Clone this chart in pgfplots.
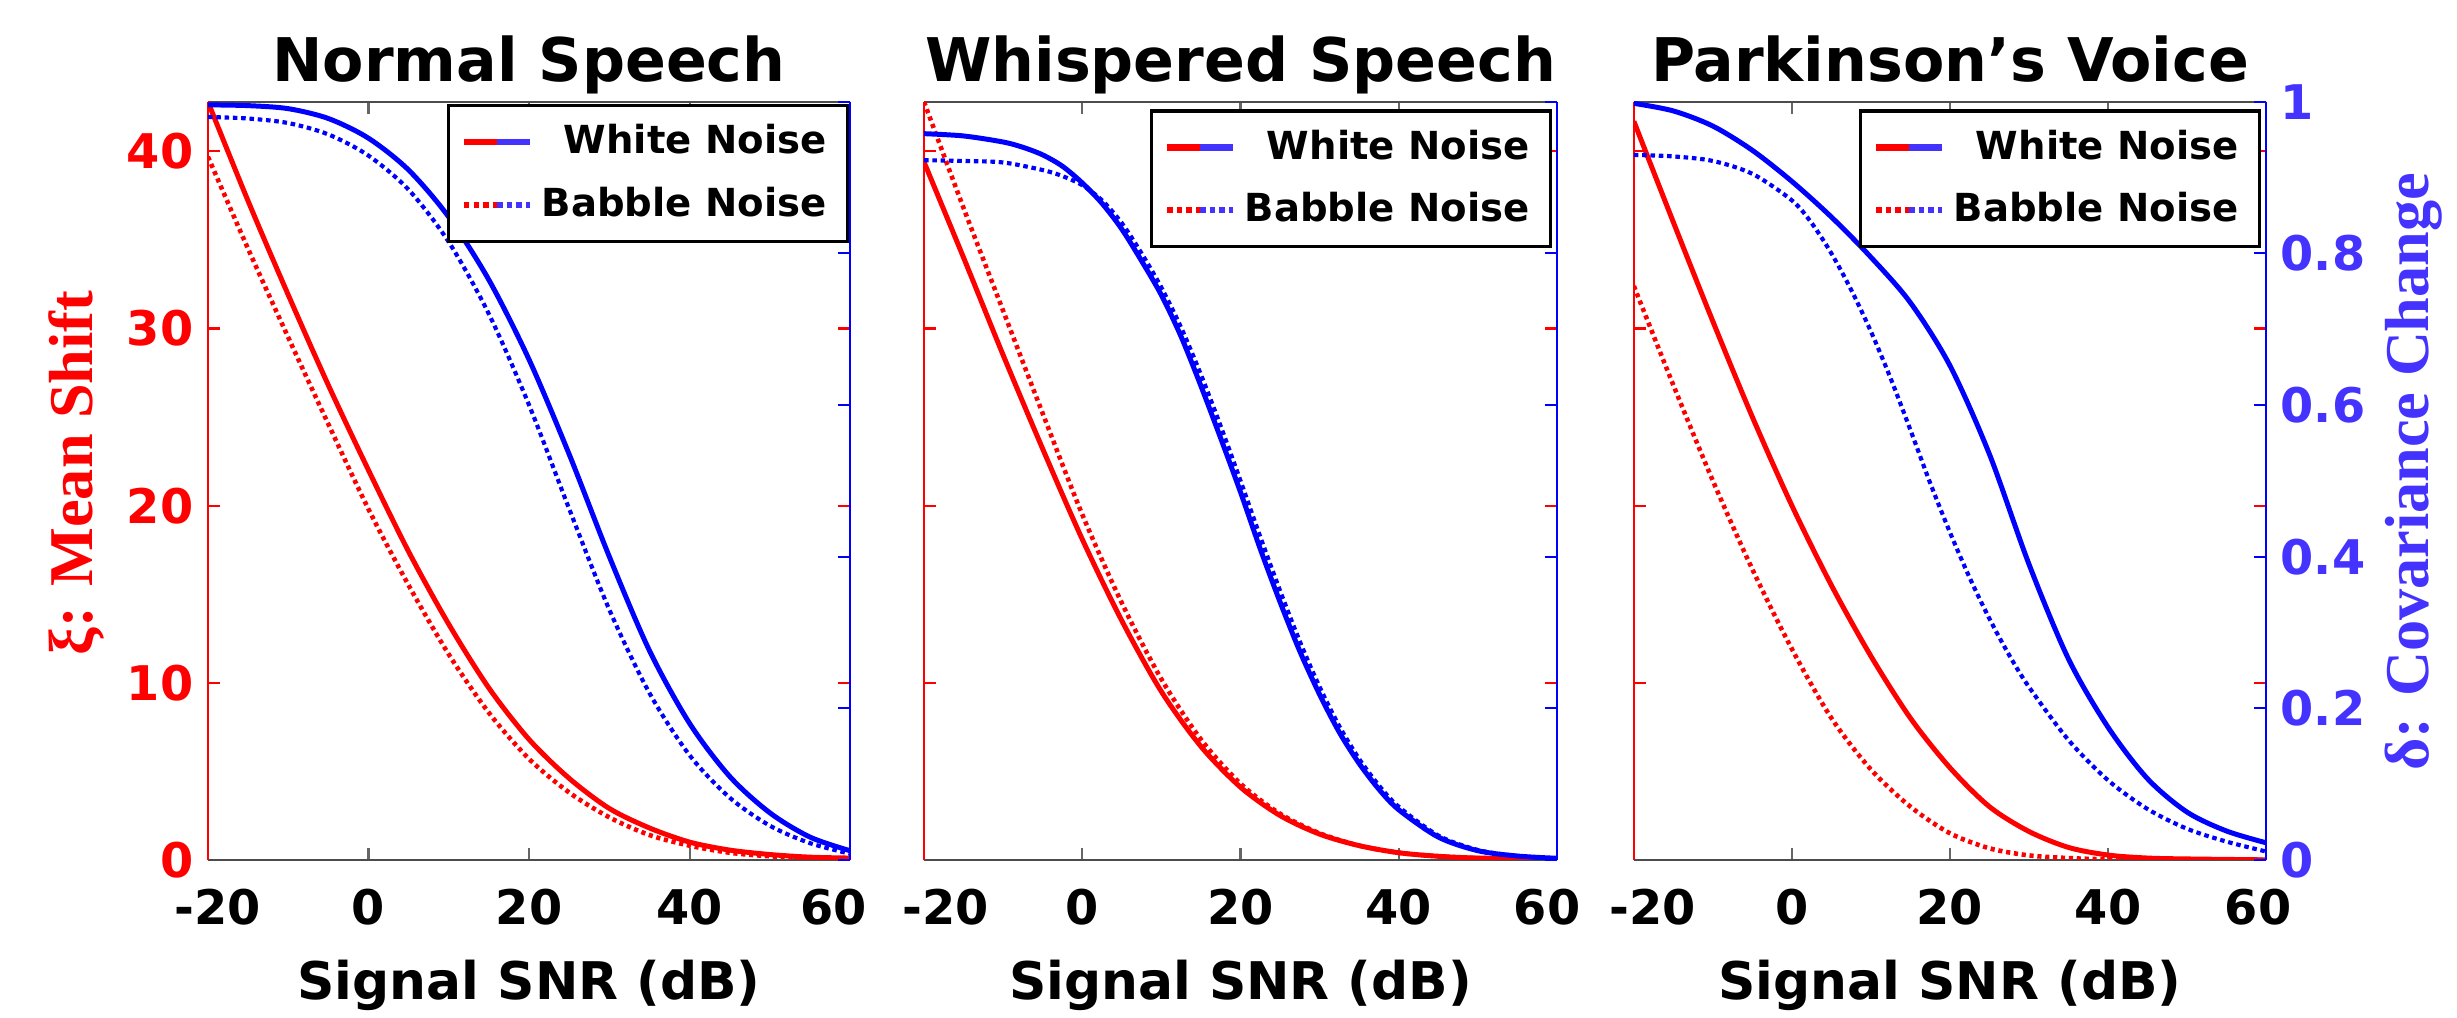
\documentclass[border=0pt]{standalone}
\usepackage{fontspec}
\setmainfont{DejaVu Sans}
\newfontfamily\tnr{Liberation Serif}
\usepackage{pgfplots}
\pgfplotsset{compat=1.18}
\definecolor{bline}{HTML}{0000FF}
\definecolor{blab}{HTML}{4433FF}
\newcommand\ticfont{\fontsize{11.5}{13}\selectfont\bfseries}
\newcommand\ttlfont{\fontsize{14.5}{16}\selectfont\bfseries}
\newcommand\xlfont{\fontsize{12.5}{14}\selectfont\bfseries}
\newcommand\legfont{\fontsize{9.3}{10}\selectfont\bfseries}
\newcommand\ylfont{\tnr\bfseries\fontsize{15}{16}\selectfont}

\pgfplotsset{
  panel/.style={scale only axis, height=182.6pt, xmin=-20, xmax=60, ymin=0,
    anchor=south west, tick align=inside, major tick length=2.9pt,
    xtick={-20,0,20,40,60}},
  redax/.style={panel, ymax=42.8, axis x line*=box, axis y line*=left,
    x axis line style={black!70, line width=0.6pt},
    y axis line style={red, line width=0.5pt},
    xtick style={black!60, line width=0.5pt},
    ytick style={red, line width=0.5pt},
    ytick={0,10,20,30,40},
    xticklabel style={font=\ticfont, anchor=base, yshift=-15.6pt},
    yticklabel style={font=\ticfont, text=red},
    every axis title/.style={at={(axis description cs:0.5,1)}, anchor=base,
      yshift=4.8pt, font=\ttlfont},
    every axis x label/.style={at={(axis description cs:0.5,0)}, anchor=base,
      yshift=-33.7pt, font=\xlfont},
    xlabel={Signal SNR (dB)}},
  redmirror/.style={panel, ymax=42.8, axis x line=none, axis y line*=right,
    y axis line style={red, line width=0.5pt},
    ytick style={red, line width=0.5pt},
    ytick={0,10,20,30,40}, yticklabels={}},
  blueax/.style={panel, ymax=1, axis x line=none, axis y line*=right,
    y axis line style={bline, line width=0.6pt},
    ytick style={bline, line width=0.5pt},
    ytick={0,0.2,0.4,0.6,0.8,1},
    yticklabel style={font=\ticfont, text=blab},
    legend cell align=right,
    legend style={anchor=north east, draw=black, line width=0.8pt, fill=white,
      font=\legfont, inner xsep=3pt, inner ysep=2.5pt, row sep=2.5pt,
      /tikz/every even column/.append style={column sep=3pt}}},
  rs/.style={red, line width=1.2pt, smooth},
  rd/.style={red, line width=1.1pt, dash pattern=on 1pt off 0.9pt, smooth},
  bs/.style={bline, line width=1.2pt, smooth, forget plot},
  bd/.style={bline, line width=1.0pt, dash pattern=on 1.1pt off 0.9pt, smooth, forget plot},
  wn/.style={legend image code/.code={
      \draw[red, line width=1.5pt] (0cm,0cm) -- (0.28cm,0cm);
      \draw[blab, line width=1.5pt] (0.28cm,0cm) -- (0.56cm,0cm);}},
  bn/.style={legend image code/.code={
      \draw[red, line width=1.5pt, dash pattern=on 1.3pt off 1pt] (0cm,0cm) -- (0.28cm,0cm);
      \draw[blab, line width=1.5pt, dash pattern=on 1.3pt off 1pt] (0.28cm,0cm) -- (0.56cm,0cm);}},
}

\begin{document}
\begin{tikzpicture}
\useasboundingbox (0,0) rectangle (591.9pt,245.2pt);

% ---------- Normal Speech ----------
\begin{axis}[redax, width=154.7pt, at={(50.1pt,38.06pt)}, title={Normal Speech},
    xticklabels={\kern4.8pt-20,0,20,40,60\kern7.8pt},
    yticklabels={0,10,20,30,40}, ylabel={ξ: Mean Shift},
    every axis y label/.style={at={(axis description cs:-0.204,0.51)}, anchor=center,
      rotate=90, font=\ylfont, text=red}]
  \addplot[rs] coordinates {(-20,42.8) (-15,37.2) (-10,31.9) (-5,26.8) (0,22.0) (5,17.4) (10,13.3) (15,9.7) (20,6.8) (25,4.6) (30,2.9) (35,1.8) (40,1.0) (45,0.55) (50,0.3) (55,0.15) (60,0.1)};
  \addplot[rd] coordinates {(-20,39.7) (-15,34.5) (-10,29.5) (-5,24.6) (0,19.8) (5,15.5) (10,11.6) (15,8.3) (20,5.7) (25,3.8) (30,2.4) (35,1.4) (40,0.8) (45,0.4) (50,0.2) (55,0.1) (60,0.05)};
\end{axis}
\begin{axis}[redmirror, width=154.7pt, at={(50.1pt,38.06pt)}]
\end{axis}
\begin{axis}[blueax, width=154.7pt, at={(50.1pt,38.06pt)}, yticklabels={},
    legend style={at={(0.998,0.997)}}]
  \addplot[bs] coordinates {(-20,0.996) (-15,0.995) (-10,0.991) (-5,0.978) (0,0.952) (5,0.91) (10,0.848) (15,0.765) (20,0.66) (25,0.535) (30,0.4) (35,0.276) (40,0.18) (45,0.11) (50,0.062) (55,0.03) (60,0.012)};
  \addplot[bd] coordinates {(-20,0.98) (-15,0.978) (-10,0.972) (-5,0.957) (0,0.929) (5,0.884) (10,0.815) (15,0.72) (20,0.6) (25,0.463) (30,0.33) (35,0.22) (40,0.138) (45,0.082) (50,0.045) (55,0.022) (60,0.008)};
  \addlegendimage{wn}\addlegendentry{White Noise}
  \addlegendimage{bn}\addlegendentry{Babble Noise}
\end{axis}

% ---------- Whispered Speech ----------
\begin{axis}[redax, width=152.5pt, at={(222.6pt,38.06pt)}, title={Whispered Speech},
    xticklabels={\kern10.6pt-20,0,20,40,60\kern4.8pt},
    yticklabels={}]
  \addplot[rs] coordinates {(-20,39.4) (-15,34.0) (-10,28.5) (-5,23.2) (0,18.1) (5,13.5) (10,9.5) (15,6.4) (20,4.1) (25,2.5) (30,1.45) (35,0.8) (40,0.4) (45,0.2) (50,0.1) (60,0.03)};
  \addplot[rd] coordinates {(-20,42.8) (-15,36.8) (-10,31.0) (-5,25.2) (0,19.5) (5,14.5) (10,10.2) (15,6.8) (20,4.3) (25,2.6) (30,1.5) (35,0.8) (40,0.4) (45,0.2) (50,0.1) (60,0.03)};
\end{axis}
\begin{axis}[redmirror, width=152.5pt, at={(222.6pt,38.06pt)}]
\end{axis}
\begin{axis}[blueax, width=152.5pt, at={(222.6pt,38.06pt)}, yticklabels={},
    legend style={at={(0.992,0.99)}}]
  \addplot[bs] coordinates {(-20,0.958) (-15,0.955) (-10,0.947) (-7.5,0.94) (-5,0.93) (-2.5,0.915) (0,0.893) (2.5,0.866) (5,0.832) (7.5,0.79) (10,0.745) (12.5,0.69) (15,0.625) (17.5,0.556) (20,0.485) (22.5,0.41) (25,0.34) (27.5,0.275) (30,0.218) (32.5,0.168) (35,0.127) (37.5,0.093) (40,0.066) (45,0.03) (50,0.012) (55,0.005) (60,0.002)};
  \addplot[bd] coordinates {(-20,0.923) (-15,0.922) (-10,0.92) (-5,0.91) (-2.5,0.902) (0,0.89) (2.5,0.87) (5,0.84) (7.5,0.8) (10,0.755) (12.5,0.702) (15,0.64) (17.5,0.572) (20,0.5) (22.5,0.426) (25,0.355) (27.5,0.288) (30,0.228) (32.5,0.176) (35,0.133) (37.5,0.098) (40,0.07) (45,0.032) (50,0.013) (55,0.005) (60,0.002)};
  \addlegendimage{wn}\addlegendentry{White Noise}
  \addlegendimage{bn}\addlegendentry{Babble Noise}
\end{axis}

% ---------- Parkinson's Voice ----------
\begin{axis}[redax, width=152.3pt, at={(393.6pt,38.06pt)}, title={Parkinson’s Voice},
    xticklabels={\kern9.2pt-20,0,20,40,60\kern3.8pt},
    yticklabels={}]
  \addplot[rs] coordinates {(-20,41.7) (-15,36.0) (-10,30.4) (-5,25.0) (0,20.0) (5,15.5) (10,11.5) (15,8.0) (20,5.2) (25,3.0) (30,1.6) (35,0.7) (40,0.27) (45,0.1) (50,0.05) (60,0)};
  \addplot[rd] coordinates {(-20,32.4) (-15,26.8) (-10,21.4) (-5,16.4) (0,11.9) (5,8.0) (10,5.1) (15,3.0) (20,1.5) (25,0.65) (30,0.25) (35,0.1) (40,0.03) (50,0) (60,0)};
\end{axis}
\begin{axis}[redmirror, width=152.3pt, at={(393.6pt,38.06pt)}]
\end{axis}
\begin{axis}[blueax, width=152.3pt, at={(393.6pt,38.06pt)},
    yticklabels={0,0.2,0.4,0.6,0.8,1}, ylabel={δ: Covariance Change},
    every axis y label/.style={at={(axis description cs:1.233,0.512)}, anchor=center,
      rotate=90, font=\ylfont, text=blab},
    legend style={at={(0.992,0.99)}}]
  \addplot[bs] coordinates {(-20,0.998) (-15,0.988) (-10,0.968) (-5,0.936) (0,0.895) (5,0.848) (10,0.795) (15,0.735) (20,0.652) (25,0.535) (30,0.39) (35,0.265) (40,0.175) (45,0.107) (50,0.063) (55,0.038) (60,0.0225)};
  \addplot[bd] coordinates {(-20,0.93) (-15,0.928) (-10,0.922) (-5,0.905) (0,0.87) (2.5,0.84) (5,0.8) (7.5,0.752) (10,0.697) (12.5,0.635) (15,0.567) (17.5,0.497) (20,0.432) (22.5,0.372) (25,0.318) (27.5,0.27) (30,0.228) (35,0.158) (40,0.105) (45,0.067) (50,0.041) (55,0.024) (60,0.011)};
  \addlegendimage{wn}\addlegendentry{White Noise}
  \addlegendimage{bn}\addlegendentry{Babble Noise}
\end{axis}
\end{tikzpicture}
\end{document}
